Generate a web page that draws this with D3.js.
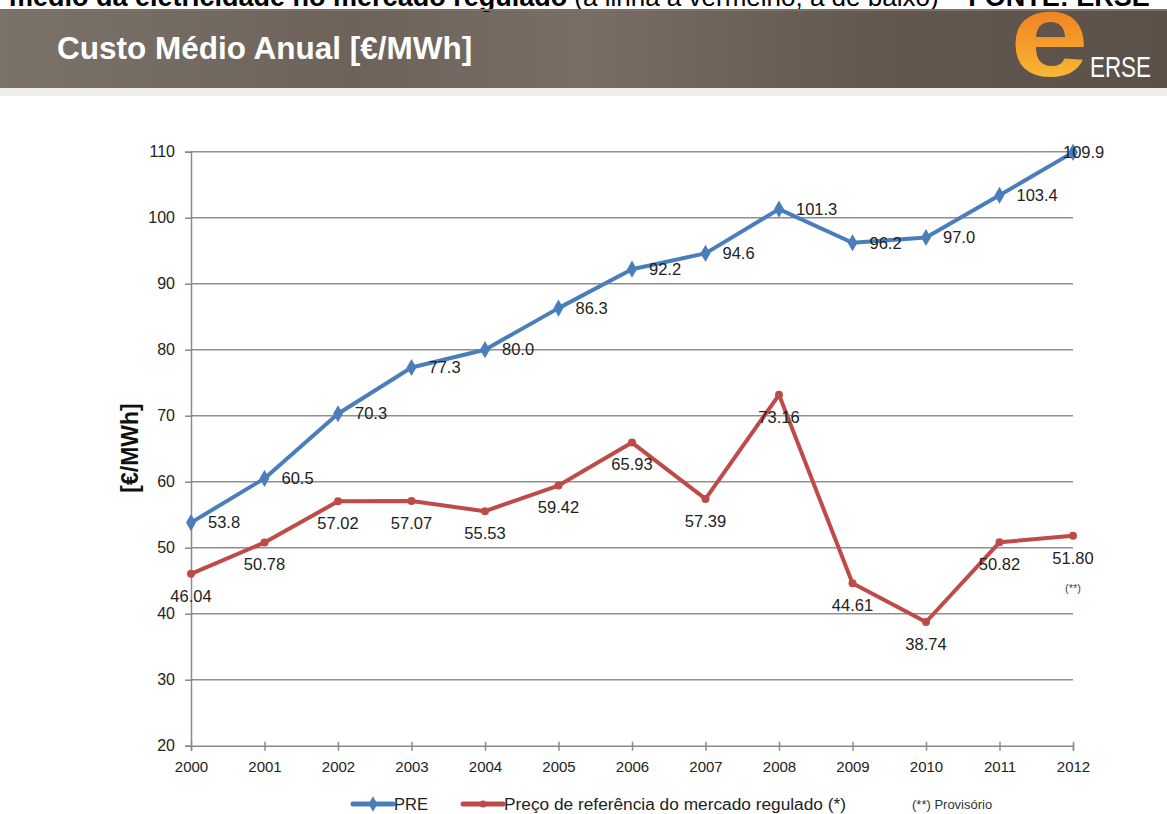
<!DOCTYPE html>
<html>
<head>
<meta charset="utf-8">
<script src="https://cdn.jsdelivr.net/npm/d3@7"></script>
<style>
body { margin: 0; background: #fff; }
svg { display: block; font-family: "Liberation Sans", Arial, sans-serif; }
</style>
</head>
<body>
<svg id="chart" width="1167" height="814"></svg>
<script>
// data
var years = ["2000", "2001", "2002", "2003", "2004", "2005", "2006", "2007", "2008", "2009", "2010", "2011", "2012"];
var preValues = [53.8, 60.5, 70.3, 77.3, 80.0, 86.3, 92.2, 94.6, 101.3, 96.2, 97.0, 103.4, 109.9];
var refValues = [46.04, 50.78, 57.02, 57.07, 55.53, 59.42, 65.93, 57.39, 73.16, 44.61, 38.74, 50.82, 51.80];
var yTicks = [20, 30, 40, 50, 60, 70, 80, 90, 100, 110];
var seriesNames = ["PRE", "Preço de referência do mercado regulado (*)"];

var blue = "#4a7ebb", red = "#be4b48";
var svg = d3.select("#chart");

// header band
var defs = svg.append("defs");
var grad = defs.append("linearGradient").attr("id", "band").attr("x1", 0).attr("x2", 1).attr("y1", 0).attr("y2", 0);
[["0", "#7b726a"], ["0.3", "#6d635b"], ["0.5", "#786e65"], ["0.75", "#62584f"], ["1", "#5c5148"]].forEach(function(s) {
	grad.append("stop").attr("offset", s[0]).attr("stop-color", s[1]);
});
var eGrad = defs.append("linearGradient").attr("id", "egrad").attr("x1", 0).attr("x2", 0).attr("y1", 0).attr("y2", 1);
eGrad.append("stop").attr("offset", "0").attr("stop-color", "#e9651c");
eGrad.append("stop").attr("offset", "0.55").attr("stop-color", "#f59a2a");
eGrad.append("stop").attr("offset", "1").attr("stop-color", "#f9cc3c");

svg.append("rect").attr("x", 0).attr("y", 9).attr("width", 1167).attr("height", 79).attr("fill", "url(#band)");
svg.append("rect").attr("x", 0).attr("y", 88).attr("width", 1167).attr("height", 8).attr("fill", "#efedea");

// line of text above the band, only its lower part shows
var topText = svg.append("text").attr("x", 9).attr("y", 6).attr("font-size", 27).attr("fill", "#000");
topText.append("tspan").attr("font-weight", "bold").text("médio da eletricidade no mercado regulado");
topText.append("tspan").attr("font-size", 26).text(" (a linha a vermelho, a de baixo) ");
topText.append("tspan").attr("font-weight", "bold").text("– FONTE: ERSE");
svg.append("rect").attr("x", 0).attr("y", 9).attr("width", 1167).attr("height", 2).attr("fill", "#7a7169");

svg.append("text").attr("x", 57).attr("y", 59).attr("font-size", 31.5).attr("font-weight", "bold")
	.attr("fill", "#fff").text("Custo Médio Anual [€/MWh]");

// logo
svg.append("text").attr("transform", "translate(1010,76) scale(1.2,1)").attr("font-size", 118).attr("font-weight", "bold")
	.attr("fill", "url(#egrad)").text("e");
svg.append("text").attr("x", 1090).attr("y", 77).attr("font-size", 30).attr("fill", "#fff")
	.attr("textLength", 61).attr("lengthAdjust", "spacingAndGlyphs").text("ERSE");

// scales
var x = d3.scalePoint().domain(years).range([191, 1073]);
var y = d3.scaleLinear().domain([20, 110]).range([745.7, 151.7]);

// gridlines
svg.append("g").selectAll("line").data(yTicks.slice(1)).join("line")
	.attr("x1", 191).attr("x2", 1073).attr("y1", function(d) { return y(d); }).attr("y2", function(d) { return y(d); })
	.attr("stroke", "#8f8f8f").attr("stroke-width", 1.5);

// axes
var yAxis = svg.append("g").attr("transform", "translate(191,0)")
	.call(d3.axisLeft(y).tickValues(yTicks).tickSize(6).tickPadding(10).tickFormat(d3.format("d")));
var xAxis = svg.append("g").attr("transform", "translate(0,745.7)")
	.call(d3.axisBottom(x).tickSize(5).tickPadding(11));
[yAxis, xAxis].forEach(function(a) {
	a.select(".domain").attr("stroke", "#8a8a8a").attr("stroke-width", 1.5);
	a.selectAll(".tick line").attr("stroke", "#8a8a8a").attr("stroke-width", 1.5);
	a.selectAll(".tick text").attr("fill", "#222").attr("font-family", "Liberation Sans, Arial, sans-serif");
});
yAxis.selectAll(".tick text").attr("font-size", 16);
xAxis.selectAll(".tick text").attr("font-size", 15);
xAxis.selectAll(".tick line").attr("y1", -4);

svg.append("text").attr("transform", "translate(138,448) rotate(-90)").attr("text-anchor", "middle")
	.attr("font-size", 23).attr("font-weight", "bold").attr("fill", "#111").text("[€/MWh]");

var line = d3.line().x(function(d, i) { return x(years[i]); }).y(function(d) { return y(d); });

// PRE series
svg.append("path").datum(preValues).attr("d", line).attr("fill", "none")
	.attr("stroke", blue).attr("stroke-width", 4).attr("stroke-linejoin", "round");
svg.append("g").selectAll("path").data(preValues).join("path")
	.attr("d", d3.symbol(d3.symbolDiamond, 85))
	.attr("transform", function(d, i) { return "translate(" + x(years[i]) + "," + y(d) + ")"; })
	.attr("fill", blue);
svg.append("g").selectAll("text").data(preValues).join("text")
	.attr("x", function(d, i) { return x(years[i]) + (i == preValues.length - 1 ? -10 : 17); })
	.attr("y", function(d) { return y(d); }).attr("dy", "0.35em")
	.attr("font-size", 16.5).attr("fill", "#222").text(function(d) { return d.toFixed(1); });

// reference price series
svg.append("path").datum(refValues).attr("d", line).attr("fill", "none")
	.attr("stroke", red).attr("stroke-width", 4).attr("stroke-linejoin", "round");
svg.append("g").selectAll("circle").data(refValues).join("circle")
	.attr("cx", function(d, i) { return x(years[i]); }).attr("cy", function(d) { return y(d); })
	.attr("r", 4).attr("fill", red);
svg.append("g").selectAll("text").data(refValues).join("text")
	.attr("x", function(d, i) { return x(years[i]); })
	.attr("y", function(d) { return y(d) + 22; }).attr("dy", "0.35em").attr("text-anchor", "middle")
	.attr("font-size", 16.5).attr("fill", "#222").text(function(d) { return d.toFixed(2); });
svg.append("text").attr("x", x("2012")).attr("y", y(refValues[12]) + 52).attr("dy", "0.35em")
	.attr("text-anchor", "middle").attr("font-size", 11).attr("fill", "#444").text("(**)");

// legend
var legend = svg.append("g").attr("transform", "translate(0,804)");
var legX = [353, 463];
[blue, red].forEach(function(c, i) {
	legend.append("line").attr("x1", legX[i]).attr("x2", legX[i] + 40).attr("y1", 0).attr("y2", 0)
		.attr("stroke", c).attr("stroke-width", 5).attr("stroke-linecap", "round");
	if (i == 0) {
		legend.append("path").attr("d", d3.symbol(d3.symbolDiamond, 70)).attr("transform", "translate(" + (legX[i] + 20) + ",0)").attr("fill", c);
	} else {
		legend.append("circle").attr("cx", legX[i] + 20).attr("cy", 0).attr("r", 3.5).attr("fill", c);
	}
	legend.append("text").attr("x", legX[i] + 41).attr("dy", "0.35em").attr("font-size", i == 0 ? 16.5 : 17.3)
		.attr("fill", "#222").text(seriesNames[i]);
});
legend.append("text").attr("x", 912).attr("dy", "0.35em").attr("font-size", 13).attr("fill", "#333").text("(**) Provisório");
</script>
</body>
</html>
